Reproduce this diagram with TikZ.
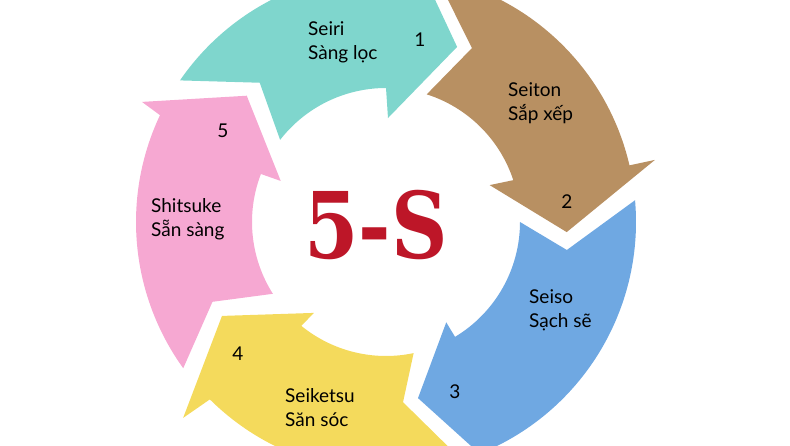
\documentclass[tikz,border=0pt]{standalone}
\usepackage{fontspec}
\usepackage{graphicx}
\setmainfont{Lato}
\newfontfamily\fivesfont{DejaVu Serif}
\definecolor{seiricol}{RGB}{127,214,205}
\definecolor{seitoncol}{RGB}{184,144,98}
\definecolor{seisocol}{RGB}{111,168,226}
\definecolor{seiketsucol}{RGB}{244,218,92}
\definecolor{shitsukecol}{RGB}{246,168,210}
\definecolor{fivesred}{RGB}{189,22,40}
\tikzset{lbl/.style={anchor=base west,align=left,inner sep=0pt},
	num/.style={inner sep=0pt}}
\begin{document}
\begin{tikzpicture}[x=1pt,y=1pt,font=\fontsize{19}{24}\selectfont]
	\useasboundingbox (0,0) rectangle (790,445);
	\clip (0,0) rectangle (790,445);
	\begin{scope}[shift={(386,223)}]
	\fill[seiricol] (145.5:250)--(132.2:188)--(142.2:134) arc[start angle=142.2,end angle=90,radius=134]
	--(88.9:104)--(67.9:189)--(84.8:275)--(86:250) arc[start angle=86,end angle=145.5,radius=250]--cycle;
	\fill[seitoncol] (78.3:250)--(63.7:194)--(72.3:134) arc[start angle=72.3,end angle=18.2,radius=134]
	--(19.6:110)--(-3.2:181)--(13:276)--(13.1:250) arc[start angle=13.1,end angle=78.3,radius=250]--cycle;
	\fill[seisocol] (5:250)--(-8.8:183)--(0:134) arc[start angle=0,end angle=-59,radius=134]
	--(-59:117)--(-79.7:179)--(-65.4:276)--(-64.5:250) arc[start angle=-64.5,end angle=5,radius=250]--cycle;
	\fill[seiketsucol] (-72.3:250)--(-84.6:181)--(-78.1:134) arc[start angle=-78.1,end angle=-129.2,radius=134]
	--(-128.4:116)--(-150.2:189)--(-136:282)--(-134.8:250) arc[start angle=-134.8,end angle=-72.3,radius=250]--cycle;
	\fill[shitsukecol] (215.8:250)--(204.7:191)--(212.4:134) arc[start angle=212.4,end angle=159,radius=134]
	--(158.7:113)--(137.8:188)--(153.8:272)--(154.7:250) arc[start angle=154.7,end angle=215.8,radius=250]--cycle;
	\end{scope}
	\node[lbl] (seiri) at (308,385) {Seiri\\Sàng lọc};
	\node[lbl] (seiton) at (508,324) {Seiton\\Sắp xếp};
	\node[lbl] (seiso) at (529,118) {Seiso\\Sạch sẽ};
	\node[lbl] (seiketsu) at (285,19) {Seiketsu\\Săn sóc};
	\node[lbl] (shitsuke) at (151,208) {Shitsuke\\Sẵn sàng};
	\node[num] (n1) at (420,405) {1};
	\node[num] (n2) at (567,243) {2};
	\node[num] (n3) at (455,53) {3};
	\node[num] (n4) at (238,91) {4};
	\node[num] (n5) at (223,314) {5};
	\node[text=fivesred] (fives) at (376,220) {\fivesfont\bfseries\fontsize{92}{92}\selectfont\scalebox{.85}[1]{5-S}};
\end{tikzpicture}
\end{document}
